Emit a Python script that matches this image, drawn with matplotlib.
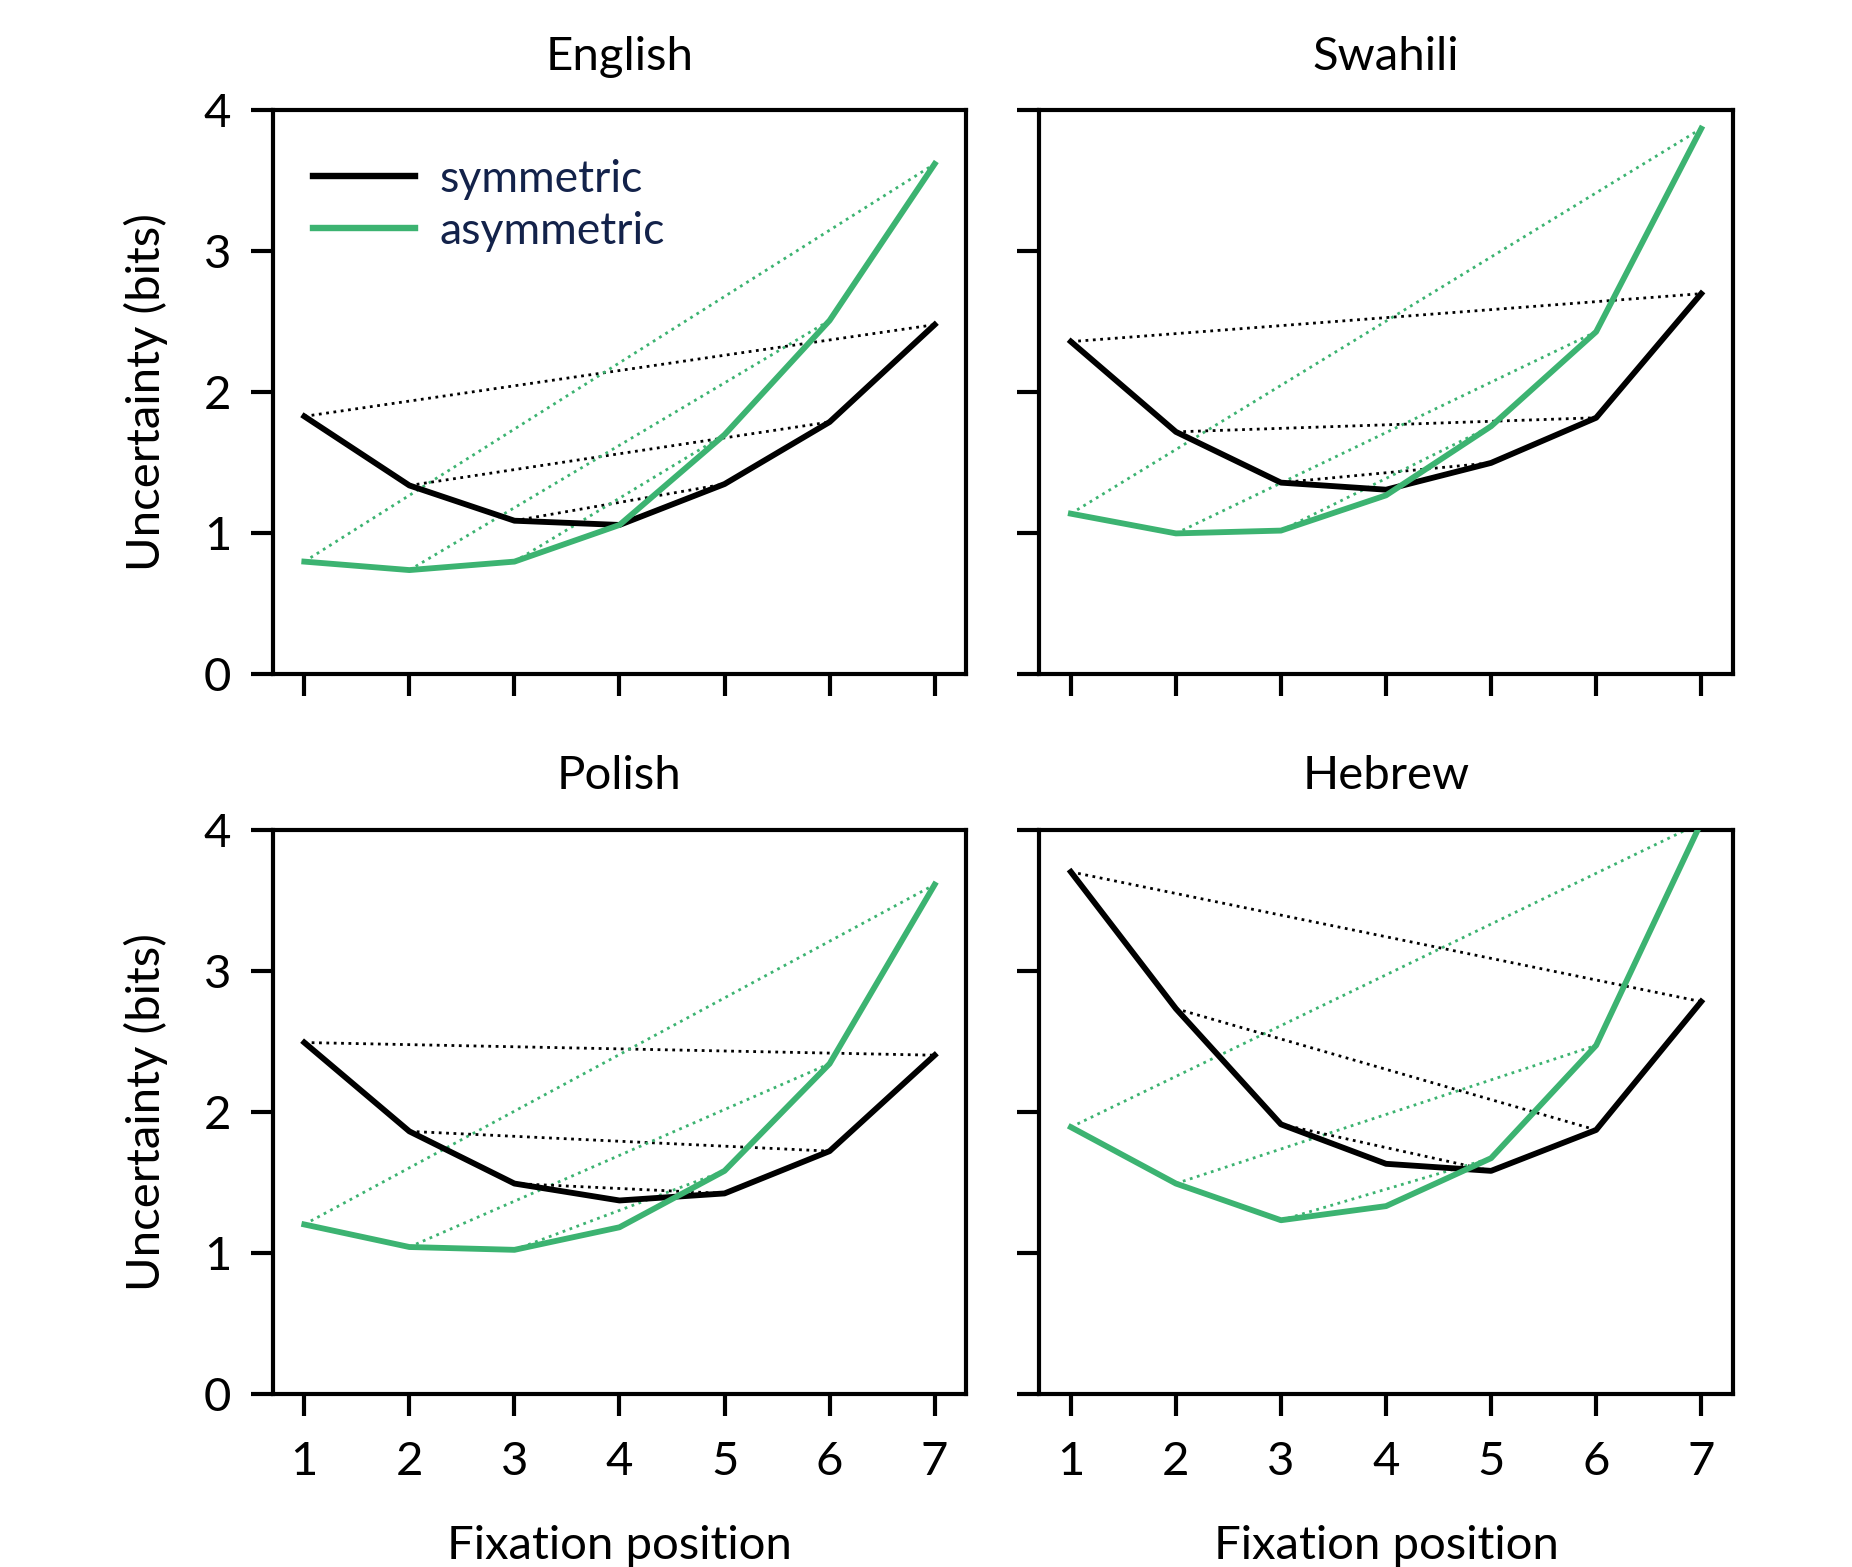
import matplotlib
matplotlib.use("Agg")
import matplotlib.pyplot as plt
import numpy as np

plt.rcParams['font.family'] = ['Lato', 'DejaVu Sans']

positions = [1, 2, 3, 4, 5, 6, 7]
languages = ["English", "Swahili", "Polish", "Hebrew"]

english_sym = [1.83, 1.34, 1.09, 1.06, 1.35, 1.79, 2.48]
english_asym = [0.80, 0.74, 0.80, 1.06, 1.70, 2.51, 3.62]
swahili_sym = [2.36, 1.72, 1.36, 1.31, 1.50, 1.82, 2.70]
swahili_asym = [1.14, 1.00, 1.02, 1.27, 1.76, 2.43, 3.87]
polish_sym = [2.49, 1.86, 1.49, 1.37, 1.42, 1.72, 2.40]
polish_asym = [1.20, 1.04, 1.02, 1.18, 1.58, 2.34, 3.61]
hebrew_sym = [3.70, 2.73, 1.91, 1.63, 1.58, 1.87, 2.78]
hebrew_asym = [1.89, 1.49, 1.23, 1.33, 1.67, 2.47, 4.05]

sym_data = [english_sym, swahili_sym, polish_sym, hebrew_sym]
asym_data = [english_asym, swahili_asym, polish_asym, hebrew_asym]

GREEN = '#3cb371'
NAVY = '#13224a'
FS = 34
LFS = 32

fig = plt.figure(figsize=(18.52, 15.67), dpi=100)
W, H = 0.3744, 0.3600
lefts = [0.1473, 0.5612]
bottoms = [0.5696, 0.1106]

axes = []
for r in range(2):
    for c in range(2):
        ax = fig.add_axes([lefts[c], bottoms[r], W, H])
        axes.append((ax, r, c))

for i, (ax, r, c) in enumerate(axes):
    sym = sym_data[i]
    asym = asym_data[i]
    x = np.array(positions)
    # dotted connectors between mirrored positions
    for a, b in [(0, 6), (1, 5), (2, 4)]:
        ax.plot([x[a], x[b]], [sym[a], sym[b]], ls=':', color='black', lw=2.0, zorder=2)
        ax.plot([x[a], x[b]], [asym[a], asym[b]], ls=':', color=GREEN, lw=2.0, zorder=2)
    ax.plot(x, sym, color='black', lw=4.2, label='symmetric', zorder=3)
    ax.plot(x, asym, color=GREEN, lw=4.2, label='asymmetric', zorder=3)

    ax.set_xlim(0.7, 7.3)
    ax.set_ylim(0, 4)
    ax.set_xticks(positions)
    ax.set_yticks([0, 1, 2, 3, 4])
    for s in ax.spines.values():
        s.set_linewidth(3.0)
    ax.tick_params(axis='both', length=16, width=3.0, labelsize=FS, direction='out')
    ax.tick_params(axis='x', pad=18)
    ax.tick_params(axis='y', pad=14)
    ax.set_title(languages[i], fontsize=FS, pad=29)
    if c == 0:
        ax.set_ylabel('Uncertainty (bits)', fontsize=FS, labelpad=26)
    else:
        ax.set_yticklabels([])
    if r == 1:
        ax.set_xlabel('Fixation position', fontsize=FS, labelpad=30)
    else:
        ax.set_xticklabels([])
    if i == 0:
        leg = ax.legend(loc='upper left', frameon=False, fontsize=LFS,
                        handlelength=2.3, handletextpad=0.55, labelspacing=0.25,
                        borderaxespad=0.5, bbox_to_anchor=(0.0, 0.985))
        for t in leg.get_texts():
            t.set_color(NAVY)
        for h in leg.get_lines():
            h.set_linewidth(4.6)

fig.savefig('out.png', dpi=100, facecolor='white')
